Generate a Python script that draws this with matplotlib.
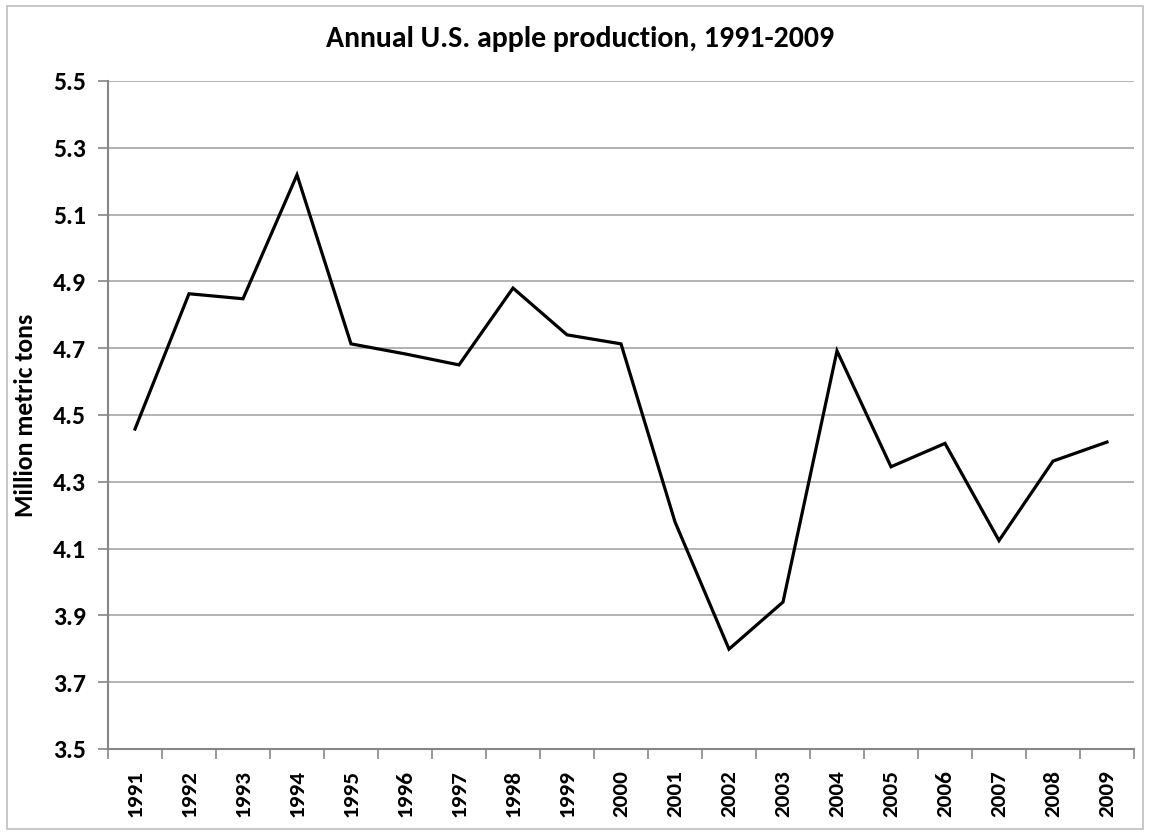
import matplotlib.pyplot as plt
from matplotlib.patches import Rectangle
import numpy as np

# Annual U.S. apple production (million metric tons)
YEARS = ['1991', '1992', '1993', '1994', '1995', '1996', '1997', '1998', '1999', '2000',
         '2001', '2002', '2003', '2004', '2005', '2006', '2007', '2008', '2009']
PRODUCTION = [4.458, 4.863, 4.848, 5.219, 4.713, 4.683, 4.650, 4.880, 4.740, 4.713,
              4.180, 3.799, 3.940, 4.692, 4.345, 4.415, 4.124, 4.362, 4.419]
Y_TICKS = [3.5, 3.7, 3.9, 4.1, 4.3, 4.5, 4.7, 4.9, 5.1, 5.3, 5.5]

W, H = 1149, 835
GRAY = '#868686'
GRID = '#a6a6a6'

plt.rcParams['font.family'] = ['Carlito', 'DejaVu Sans']
plt.rcParams['font.weight'] = 'bold'

fig = plt.figure(figsize=(W / 100, H / 100), dpi=100)
ax = fig.add_axes([108 / W, 1 - 749 / H, (1134 - 108) / W, (749 - 81) / H])

x = np.arange(len(YEARS))
ax.plot(x, PRODUCTION, color='black', linewidth=2.3, solid_joinstyle='miter', zorder=3)

ax.set_xlim(-0.5, len(YEARS) - 0.5)
ax.set_ylim(Y_TICKS[0], Y_TICKS[-1])

# y axis
ax.set_yticks(Y_TICKS)
ax.set_yticklabels([f'{v:.1f}' for v in Y_TICKS])
ax.yaxis.grid(True, color=GRID, linewidth=1.2)
ax.set_axisbelow(True)

# x axis: ticks at category boundaries, labels at centres
ax.set_xticks(np.arange(len(YEARS) + 1) - 0.5)
ax.set_xticklabels([])
ax.set_xticks(x, minor=True)
ax.set_xticklabels(YEARS, minor=True)

ax.tick_params(axis='both', which='major', direction='out', length=7,
               width=1.2, color=GRAY)
ax.tick_params(axis='y', pad=9, labelsize=18.5)
ax.tick_params(axis='x', which='minor', length=0, pad=15,
               labelsize=16.7, labelrotation=90)

for side in ['top', 'right']:
    ax.spines[side].set_visible(False)
for side in ['left', 'bottom']:
    ax.spines[side].set_color(GRAY)
    ax.spines[side].set_linewidth(1.5)

ax.set_ylabel('Million metric tons', fontsize=18.5, fontweight='bold', labelpad=11)

fig.text(580 / W, 1 - 39 / H, 'Annual U.S. apple production, 1991-2009',
         ha='center', va='center', fontsize=21.5, fontweight='bold')

# chart border
fig.patches.append(Rectangle((7 / W, 1 - 829 / H), (1143 - 7) / W, (829 - 6) / H,
                             transform=fig.transFigure, fill=False,
                             edgecolor='#bfbfbf', linewidth=1.2))

plt.savefig('out.png', dpi=100)
